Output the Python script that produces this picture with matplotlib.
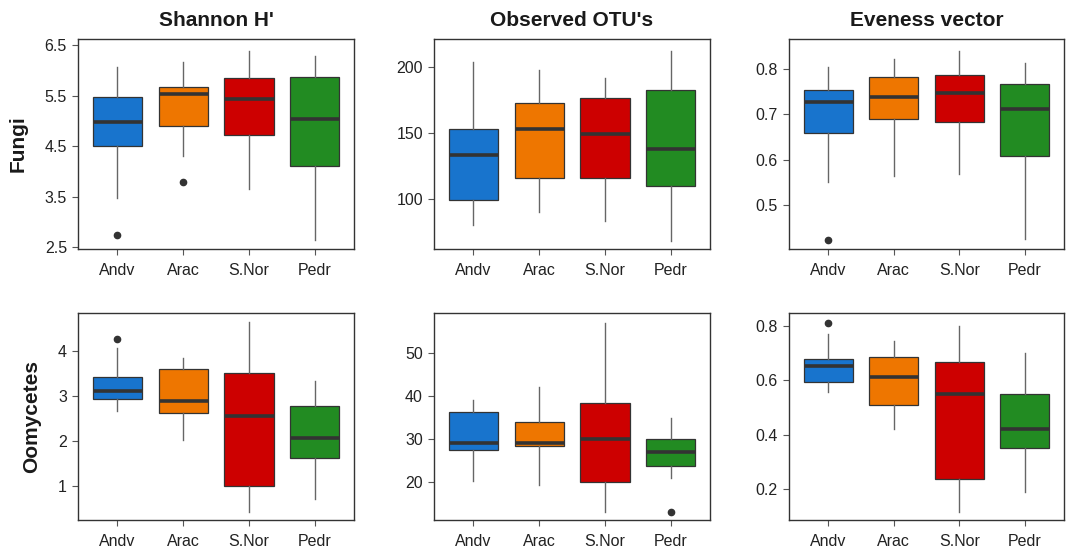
import matplotlib
matplotlib.use("Agg")
import matplotlib.pyplot as plt

plt.rcParams['font.family'] = ['Liberation Sans', 'DejaVu Sans']

sites = ["Andv", "Arac", "S.Nor", "Pedr"]
colors = ["#1874CD", "#EE7600", "#CD0000", "#228B22"]
metrics = ["Shannon H'", "Observed OTU's", "Eveness vector"]
groups = ["Fungi", "Oomycetes"]

# Box summaries per site: lower whisker, Q1, median, Q3, upper whisker
fungi_shannon_lo = [3.47, 4.31, 3.65, 2.64]
fungi_shannon_q1 = [4.50, 4.89, 4.71, 4.10]
fungi_shannon_med = [4.97, 5.53, 5.44, 5.03]
fungi_shannon_q3 = [5.47, 5.66, 5.84, 5.87]
fungi_shannon_hi = [6.06, 6.16, 6.39, 6.29]
fungi_shannon_out = [[2.73], [3.78], [], []]

fungi_otu_lo = [80.4, 90.5, 83.5, 68.4]
fungi_otu_q1 = [99.2, 115.6, 115.6, 110.2]
fungi_otu_med = [133.2, 153.3, 149.5, 137.8]
fungi_otu_q3 = [153.0, 172.6, 176.4, 183.0]
fungi_otu_hi = [203.8, 198.0, 191.8, 212.7]
fungi_otu_out = [[], [], [], []]

fungi_even_lo = [0.551, 0.564, 0.568, 0.424]
fungi_even_q1 = [0.658, 0.690, 0.683, 0.608]
fungi_even_med = [0.728, 0.739, 0.747, 0.713]
fungi_even_q3 = [0.753, 0.783, 0.787, 0.768]
fungi_even_hi = [0.805, 0.823, 0.840, 0.813]
fungi_even_out = [[0.422], [], [], []]

oomy_shannon_lo = [2.66, 2.01, 0.42, 0.70]
oomy_shannon_q1 = [2.93, 2.61, 1.00, 1.62]
oomy_shannon_med = [3.11, 2.89, 2.54, 2.05]
oomy_shannon_q3 = [3.41, 3.59, 3.50, 2.77]
oomy_shannon_hi = [4.07, 3.83, 4.63, 3.33]
oomy_shannon_out = [[4.27], [], [], []]

oomy_otu_lo = [20.15, 19.3, 13.0, 20.9]
oomy_otu_q1 = [27.3, 28.2, 20.0, 23.6]
oomy_otu_med = [29.07, 29.07, 30.0, 26.8]
oomy_otu_q3 = [36.26, 33.9, 38.4, 29.9]
oomy_otu_hi = [39.07, 42.1, 56.9, 34.9]
oomy_otu_out = [[], [], [], [13.0]]

oomy_even_lo = [0.558, 0.420, 0.116, 0.190]
oomy_even_q1 = [0.593, 0.509, 0.236, 0.351]
oomy_even_med = [0.653, 0.612, 0.549, 0.419]
oomy_even_q3 = [0.679, 0.684, 0.667, 0.550]
oomy_even_hi = [0.772, 0.745, 0.800, 0.699]
oomy_even_out = [[0.811], [], [], []]

panels = [
    [(fungi_shannon_lo, fungi_shannon_q1, fungi_shannon_med, fungi_shannon_q3, fungi_shannon_hi, fungi_shannon_out),
     (fungi_otu_lo, fungi_otu_q1, fungi_otu_med, fungi_otu_q3, fungi_otu_hi, fungi_otu_out),
     (fungi_even_lo, fungi_even_q1, fungi_even_med, fungi_even_q3, fungi_even_hi, fungi_even_out)],
    [(oomy_shannon_lo, oomy_shannon_q1, oomy_shannon_med, oomy_shannon_q3, oomy_shannon_hi, oomy_shannon_out),
     (oomy_otu_lo, oomy_otu_q1, oomy_otu_med, oomy_otu_q3, oomy_otu_hi, oomy_otu_out),
     (oomy_even_lo, oomy_even_q1, oomy_even_med, oomy_even_q3, oomy_even_hi, oomy_even_out)],
]

yticks = [
    [[2.5, 3.5, 4.5, 5.5, 6.5], [100, 150, 200], [0.5, 0.6, 0.7, 0.8]],
    [[1, 2, 3, 4], [20, 30, 40, 50], [0.2, 0.4, 0.6, 0.8]],
]
yticklabels = [
    [["2.5", "3.5", "4.5", "5.5", "6.5"], ["100", "150", "200"], ["0.5", "0.6", "0.7", "0.8"]],
    [["1", "2", "3", "4"], ["20", "30", "40", "50"], ["0.2", "0.4", "0.6", "0.8"]],
]
ylims = [
    [(2.46, 6.62), (62, 221.6), (0.402, 0.867)],
    [(0.237, 4.84), (11.1, 59.2), (0.085, 0.848)],
]

W, H = 1074, 549
fig = plt.figure(figsize=(W / 100, H / 100), dpi=100)

col_x = [(78, 354), (434, 710), (789, 1064)]
row_y = [(39, 249), (313, 520)]
edge = "#333333"

for r in range(2):
    for c in range(3):
        x0, x1 = col_x[c]
        y0, y1 = row_y[r]
        ax = fig.add_axes([x0 / W, 1 - y1 / H, (x1 - x0) / W, (y1 - y0) / H])
        lo, q1, med, q3, hi, out = panels[r][c]
        stats = []
        for i in range(len(sites)):
            stats.append(dict(whislo=lo[i], q1=q1[i], med=med[i], q3=q3[i],
                              whishi=hi[i], fliers=out[i], label=sites[i]))
        bp = ax.bxp(stats, positions=range(1, 5), widths=0.75, patch_artist=True,
                    showcaps=False, showfliers=True,
                    boxprops=dict(edgecolor=edge, linewidth=0.9),
                    whiskerprops=dict(color="#666666", linewidth=1.0),
                    medianprops=dict(color=edge, linewidth=2.6, solid_capstyle="butt"),
                    flierprops=dict(marker="o", markerfacecolor=edge, markeredgecolor=edge,
                                    markersize=4.5))
        for patch, col in zip(bp["boxes"], colors):
            patch.set_facecolor(col)
            patch.set_zorder(2)
        for m in bp["medians"]:
            m.set_zorder(3)
        ax.set_xlim(0.4, 4.6)
        ax.set_ylim(*ylims[r][c])
        ax.set_yticks(yticks[r][c])
        ax.set_yticklabels(yticklabels[r][c])
        ax.set_xticks(range(1, 5))
        ax.set_xticklabels(sites)
        ax.tick_params(axis="both", direction="out", length=4, width=0.8,
                       color="#555555", labelsize=11.5, labelcolor="#222222")
        ax.tick_params(axis="x", pad=6)
        ax.tick_params(axis="y", pad=4)
        for sp in ax.spines.values():
            sp.set_color(edge)
            sp.set_linewidth(1.0)
        if r == 0:
            ax.set_title(metrics[c], fontsize=15, fontweight="bold", color="#1a1a1a", pad=9)
        if c == 0:
            ax.set_ylabel(groups[r], fontsize=15, fontweight="bold", color="#1a1a1a", labelpad=12)

fig.savefig("out.png", dpi=100)
